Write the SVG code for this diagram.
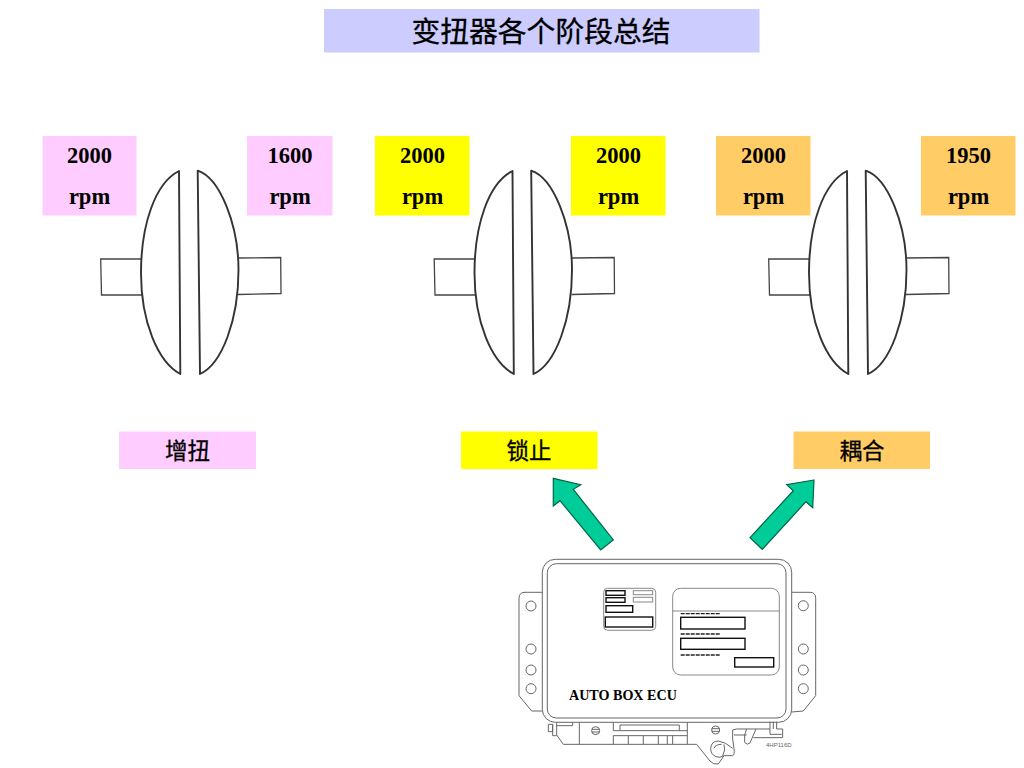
<svg xmlns="http://www.w3.org/2000/svg" width="1024" height="768" viewBox="0 0 1024 768">
<style>
.cjk{font-family:"Noto Sans CJK SC","Liberation Sans",sans-serif;fill:#000;stroke:#000;stroke-width:.3;text-anchor:middle}
.rpm{font-family:"Liberation Serif",serif;font-weight:bold;font-size:22.5px;fill:#000;text-anchor:middle}
.cp{fill:#fff;stroke:#333;stroke-width:1.9;stroke-linejoin:round}
.stub{fill:#fff;stroke:#444;stroke-width:1.3}
.arrow{fill:#00cc99;stroke:#064;stroke-width:1.2;stroke-linejoin:miter}
.ln{fill:none;stroke:#666;stroke-width:1}
.grey{fill:#fff;stroke:#888;stroke-width:1}
.bk{fill:#fff;stroke:#111;stroke-width:1.4}
.dash{fill:none;stroke:#222;stroke-width:1.3;stroke-dasharray:4 1}
.pink{fill:#ffccff}.yel{fill:#ffff00}.org{fill:#ffcc66}
</style>
<defs>
<g id="coupling">
<path class="stub" d="M141.500 259H100.700L101.500 295H142"/>
<path class="stub" d="M238 258L280.700 257.500L281 293.500L238 294.500"/>
<path class="cp" d="M179 171C155 183 141 225 141 273C141 322 158 362 180.300 374Z"/>
<path class="cp" d="M197.700 170.700C220 178 238.500 225 238.500 270C238.500 320 222 364 200 374Z"/>
</g>
</defs>

<g id="title"><rect x="324" y="9" width="435.500" height="43.500" fill="#ccccff"/><text class="cjk" x="541" y="41.500" font-size="28.800">变扭器各个阶段总结</text></g>

<g id="coupling-1"><use href="#coupling"/></g>
<g id="coupling-2"><use href="#coupling" x="333.500"/></g>
<g id="coupling-3"><use href="#coupling" x="668"/></g>

<g id="rpm-1a"><rect class="pink" x="42.500" y="136" width="94" height="79.500"/><text class="rpm" x="89.500" y="163">2000</text><text class="rpm" x="89.500" y="204">rpm</text></g>
<g id="rpm-1b"><rect class="pink" x="247" y="136" width="85.500" height="79.500"/><text class="rpm" x="290" y="163">1600</text><text class="rpm" x="290" y="204">rpm</text></g>
<g id="rpm-2a"><rect class="yel" x="375" y="136" width="94.500" height="79.500"/><text class="rpm" x="422.500" y="163">2000</text><text class="rpm" x="422.500" y="204">rpm</text></g>
<g id="rpm-2b"><rect class="yel" x="571" y="136" width="94.500" height="79.500"/><text class="rpm" x="618.500" y="163">2000</text><text class="rpm" x="618.500" y="204">rpm</text></g>
<g id="rpm-3a"><rect class="org" x="716" y="136" width="94.500" height="79.500"/><text class="rpm" x="763.500" y="163">2000</text><text class="rpm" x="763.500" y="204">rpm</text></g>
<g id="rpm-3b"><rect class="org" x="921" y="136" width="94.500" height="79.500"/><text class="rpm" x="968.500" y="163">1950</text><text class="rpm" x="968.500" y="204">rpm</text></g>

<g id="label-1"><rect class="pink" x="119" y="431.500" width="137" height="37.500"/><text class="cjk" x="187.500" y="459" font-size="22.500">增扭</text></g>
<g id="label-2"><rect class="yel" x="461" y="431.500" width="136.500" height="37.500"/><text class="cjk" x="529" y="459" font-size="22.500">锁止</text></g>
<g id="label-3"><rect class="org" x="793.500" y="431.500" width="136.500" height="37.500"/><text class="cjk" x="862" y="459" font-size="22.500">耦合</text></g>

<g id="connectors">
<path class="arrow" d="M553.300 478.300L580.700 484.700L573.300 489.300L613.300 540L600.700 550L560 500.700L553.300 506Z"/>
<path class="arrow" d="M814 480L786.700 484.700L793.300 490.700L750 537.700L762.300 549.300L806 501.700L812.700 507.700Z"/>
</g>

<g id="ecu">
<path class="ln" d="M542.300 592.300H525Q519 592.300 519 598.300V695.700L531.700 711H542.300"/>
<path class="ln" d="M791.700 592.300H810Q815.700 592.300 815.700 598.300V695.700L803.300 711L791.700 712"/>
<circle class="ln" cx="531" cy="606" r="5"/><circle class="ln" cx="531" cy="649" r="5"/><circle class="ln" cx="531" cy="670" r="5"/><circle class="ln" cx="531" cy="688.700" r="5"/>
<circle class="ln" cx="803.300" cy="605.700" r="5"/><circle class="ln" cx="803.300" cy="649" r="5"/><circle class="ln" cx="803.300" cy="670" r="5"/><circle class="ln" cx="803.300" cy="688.700" r="5"/>
<rect class="ln" x="542.300" y="559.300" width="249.400" height="163" rx="13"/>
<rect class="ln" x="547.300" y="563.700" width="238.700" height="154.300" rx="9"/>

<rect class="grey" x="603.700" y="588.300" width="52" height="42" rx="4"/>
<rect class="bk" x="606" y="590.700" width="19" height="4.600"/>
<rect class="bk" x="606" y="597.700" width="19" height="4.600"/>
<rect class="bk" x="606" y="605.700" width="26.700" height="6.600"/>
<rect class="bk" x="605.300" y="617" width="47.400" height="10"/>
<rect class="grey" x="633.300" y="590.700" width="19.400" height="4"/>
<rect class="grey" x="633.300" y="597.300" width="19.400" height="4.700"/>

<rect class="grey" x="672.700" y="588.300" width="106.600" height="86.700" rx="8"/>
<path class="grey" d="M672.700 611H779.300"/>
<path class="dash" d="M680.700 613.700H720M680.700 634H720M680.700 655H720"/>
<rect class="bk" x="680.700" y="617.300" width="64.300" height="11.700"/>
<rect class="bk" x="680.700" y="638.300" width="64.300" height="11"/>
<rect class="bk" x="734.700" y="657.700" width="39" height="9.300"/>

<text x="569" y="699.500" font-family="Liberation Serif" font-weight="bold" font-size="14.100" fill="#000">AUTO BOX ECU</text>
<text x="766" y="746.700" font-family="Liberation Sans" font-size="6" fill="#666">4HP116D</text>

<g transform="translate(540 715) scale(.3333)" fill="none" stroke="#666" stroke-width="3">
<path d="M50 22V60L70 88H470L510 138Q520 150 535 147L552 122H578Q585 120 582 100L578 72V45L590 42H690"/>
<path d="M25 28H38V50H25ZM38 28V62L50 62M50 32H98V22M118 22V88"/>
<circle cx="167" cy="47" r="12"/><path d="M155 43H179M155 51H179"/>
<circle cx="527" cy="45" r="12"/><path d="M515 41H539M515 49H539"/>
<path d="M220 22V47H240V30H418V47H442M240 47H420M442 22V88M220 62H442M220 62V88M265 62V88M310 62V88M355 62V88M382 62V88M398 62V88"/>
<path d="M512 100Q514 78 535 78Q555 80 578 100M552 122Q540 130 528 125Q512 118 512 100"/>
<path d="M552 88Q558 105 548 122M522 100Q526 88 545 88"/>
<path d="M582 60H620M620 42L614 60V82Q622 92 630 84L648 42M640 68H728V42H710M690 20V42M700 20V42M710 20V42M690 42V58H725"/>
</g>
</g>
</svg>
